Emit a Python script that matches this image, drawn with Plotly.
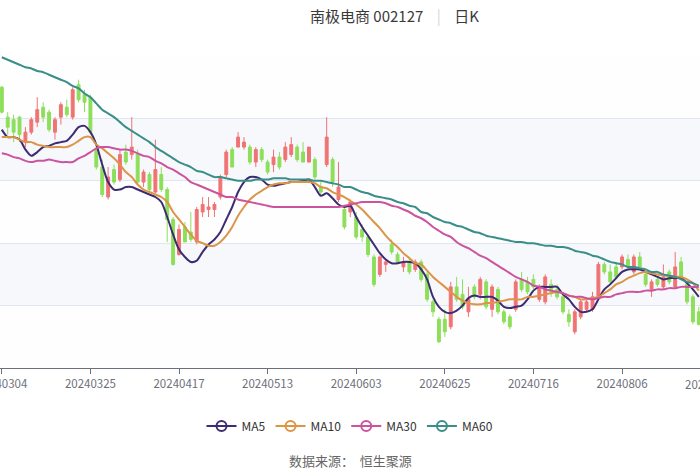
import plotly.graph_objects as go
import pandas as pd


# -----------------------------
# DATA
# -----------------------------
# A-share trading calendar (weekday exchange holidays in this window)
holidays = ["2024-04-04", "2024-04-05", "2024-05-01", "2024-05-02",
            "2024-05-03", "2024-06-10"]
trade_days = pd.bdate_range("2024-03-04", periods=121, freq="C", holidays=holidays)
dates = list(trade_days.strftime("%Y%m%d"))

open_ = [4.75, 4.51, 4.49, 4.51, 4.31, 4.39, 4.47, 4.59, 4.55, 4.39,
         4.51, 4.59, 4.51, 4.77, 4.69, 4.67, 4.25, 4.11, 3.87, 4.09,
         4.01, 4.23, 4.21, 4.21, 3.99, 4.05, 3.91, 4.05, 3.93, 3.69,
         3.41, 3.63, 3.59, 3.51, 3.75, 3.77, 3.77, 3.87, 4.05, 4.25,
         4.27, 4.27, 4.27, 4.15, 4.25, 4.15, 4.13, 4.19, 4.17, 4.21,
         4.27, 4.23, 4.15, 4.17, 3.95, 4.13, 4.17, 3.85, 3.77, 3.75,
         3.71, 3.61, 3.55, 3.39, 3.25, 3.33, 3.49, 3.41, 3.31, 3.35,
         3.29, 3.35, 3.25, 3.03, 2.89, 2.89, 2.83, 3.15, 3.09, 2.95,
         3.15, 3.09, 3.19, 2.97, 3.13, 2.95, 2.91, 2.97, 3.21, 3.19,
         3.21, 3.05, 3.03, 3.17, 3.13, 3.07, 2.93, 2.79, 2.91, 2.97,
         2.97, 3.07, 3.33, 3.27, 3.31, 3.31, 3.37, 3.27, 3.39, 3.25,
         3.13, 3.21, 3.15, 3.27, 3.15, 3.35, 3.17, 3.07, 2.95]
high = [4.76, 4.55, 4.53, 4.52, 4.43, 4.51, 4.67, 4.63, 4.57, 4.51,
        4.63, 4.65, 4.75, 4.81, 4.73, 4.69, 4.29, 4.17, 4.11, 4.13,
        4.25, 4.29, 4.51, 4.25, 4.09, 4.07, 4.33, 4.11, 3.95, 3.71,
        3.65, 3.67, 3.75, 3.79, 3.87, 3.87, 3.83, 4.05, 4.25, 4.27,
        4.39, 4.35, 4.29, 4.27, 4.27, 4.17, 4.25, 4.23, 4.31, 4.35,
        4.29, 4.31, 4.27, 4.19, 3.99, 4.51, 4.19, 4.15, 3.79, 3.85,
        3.75, 3.65, 3.57, 3.41, 3.40, 3.37, 3.53, 3.43, 3.39, 3.39,
        3.37, 3.37, 3.27, 3.05, 2.91, 2.97, 3.19, 3.23, 3.21, 3.15,
        3.17, 3.23, 3.21, 3.17, 3.15, 2.97, 2.93, 3.21, 3.27, 3.23,
        3.25, 3.17, 3.25, 3.21, 3.17, 3.11, 2.97, 2.97, 3.05, 3.05,
        3.11, 3.35, 3.35, 3.33, 3.35, 3.41, 3.41, 3.41, 3.43, 3.27,
        3.21, 3.23, 3.33, 3.29, 3.43, 3.39, 3.19, 3.09, 2.99]
low = [4.54, 4.37, 4.31, 4.31, 4.27, 4.37, 4.43, 4.47, 4.39, 4.33,
       4.45, 4.51, 4.49, 4.63, 4.55, 4.37, 4.09, 3.87, 3.85, 3.97,
       3.99, 4.13, 4.17, 3.97, 3.95, 3.91, 3.90, 3.91, 3.51, 3.32,
       3.40, 3.51, 3.51, 3.49, 3.71, 3.71, 3.71, 3.85, 4.03, 4.11,
       4.27, 4.25, 4.13, 4.11, 4.15, 4.05, 4.07, 4.09, 4.15, 4.19,
       4.15, 4.15, 4.15, 4.01, 3.89, 4.11, 3.95, 3.83, 3.61, 3.71,
       3.53, 3.51, 3.39, 3.15, 3.23, 3.27, 3.41, 3.33, 3.27, 3.25,
       3.27, 3.19, 3.03, 2.91, 2.70, 2.75, 2.81, 3.03, 2.97, 2.91,
       3.05, 3.05, 2.97, 2.91, 2.93, 2.85, 2.81, 2.95, 3.11, 3.09,
       3.13, 3.03, 3.01, 3.07, 3.05, 2.93, 2.83, 2.77, 2.89, 2.95,
       2.95, 3.05, 3.25, 3.17, 3.21, 3.29, 3.29, 3.25, 3.29, 3.15,
       3.07, 3.15, 3.13, 3.17, 3.13, 3.21, 3.01, 2.85, 2.84]
close = [4.55, 4.43, 4.39, 4.37, 4.39, 4.49, 4.57, 4.51, 4.41, 4.49,
         4.61, 4.53, 4.73, 4.65, 4.63, 4.39, 4.11, 3.89, 4.03, 3.99,
         4.21, 4.15, 4.27, 3.99, 4.07, 3.93, 4.09, 3.93, 3.69, 3.33,
         3.61, 3.51, 3.53, 3.77, 3.81, 3.79, 3.81, 4.03, 4.23, 4.11,
         4.35, 4.31, 4.15, 4.25, 4.17, 4.07, 4.19, 4.11, 4.27, 4.29,
         4.17, 4.15, 4.27, 4.03, 3.91, 4.35, 3.99, 3.95, 3.63, 3.83,
         3.55, 3.55, 3.41, 3.17, 3.39, 3.35, 3.43, 3.35, 3.35, 3.27,
         3.35, 3.21, 3.05, 2.95, 2.71, 2.79, 3.15, 3.05, 2.99, 3.05,
         3.07, 3.21, 2.99, 3.15, 2.95, 2.87, 2.83, 3.19, 3.13, 3.11,
         3.15, 3.15, 3.23, 3.11, 3.07, 2.95, 2.87, 2.95, 3.03, 3.03,
         3.07, 3.33, 3.27, 3.19, 3.23, 3.39, 3.31, 3.39, 3.31, 3.17,
         3.19, 3.17, 3.23, 3.19, 3.31, 3.23, 3.03, 2.87, 2.85]

ma5 = [4.41, 4.35, 4.35, 4.33, 4.25, 4.20, 4.23, 4.27, 4.28, 4.30,
       4.31, 4.32, 4.37, 4.43, 4.44, 4.39, 4.29, 4.13, 3.99, 3.93,
       3.93, 3.95, 3.95, 3.93, 3.91, 3.89, 3.87, 3.83, 3.71, 3.57,
       3.45, 3.39, 3.35, 3.36, 3.43, 3.49, 3.53, 3.59, 3.69, 3.79,
       3.91, 3.99, 4.03, 4.03, 4.01, 3.97, 3.96, 3.97, 3.98, 3.99,
       3.99, 4.00, 4.01, 3.95, 3.88, 3.90, 3.86, 3.81, 3.79, 3.80,
       3.71, 3.63, 3.56, 3.49, 3.42, 3.37, 3.34, 3.34, 3.35, 3.35,
       3.34, 3.29, 3.21, 3.07, 2.99, 2.95, 2.94, 2.96, 3.00, 3.06,
       3.08, 3.07, 3.07, 3.07, 3.04, 2.99, 2.98, 2.99, 3.00, 3.05,
       3.12, 3.15, 3.15, 3.15, 3.15, 3.09, 3.05, 2.99, 2.95, 2.95,
       2.97, 3.05, 3.13, 3.17, 3.22, 3.27, 3.29, 3.29, 3.29, 3.27,
       3.25, 3.23, 3.21, 3.22, 3.22, 3.22, 3.18, 3.13, 3.07]
ma10 = [4.35, 4.35, 4.35, 4.33, 4.31, 4.31, 4.29, 4.28, 4.27, 4.27,
        4.27, 4.27, 4.29, 4.32, 4.35, 4.35, 4.29, 4.26, 4.22, 4.18,
        4.13, 4.07, 4.03, 3.97, 3.93, 3.91, 3.89, 3.87, 3.83, 3.75,
        3.69, 3.63, 3.57, 3.52, 3.50, 3.48, 3.48, 3.51, 3.56, 3.63,
        3.72, 3.79, 3.85, 3.89, 3.92, 3.95, 3.97, 3.98, 3.98, 3.99,
        3.99, 3.99, 3.99, 3.98, 3.95, 3.94, 3.91, 3.89, 3.87, 3.84,
        3.81, 3.77, 3.72, 3.67, 3.62, 3.56, 3.51, 3.47, 3.42, 3.38,
        3.34, 3.33, 3.28, 3.23, 3.19, 3.15, 3.11, 3.07, 3.04, 3.02,
        3.01, 3.01, 3.02, 3.02, 3.03, 3.04, 3.05, 3.05, 3.05, 3.07,
        3.07, 3.08, 3.09, 3.10, 3.11, 3.10, 3.08, 3.07, 3.05, 3.05,
        3.06, 3.07, 3.10, 3.13, 3.17, 3.19, 3.22, 3.24, 3.26, 3.27,
        3.26, 3.25, 3.24, 3.24, 3.23, 3.23, 3.21, 3.18, 3.12]
ma30 = [4.22, 4.21, 4.19, 4.18, 4.16, 4.15, 4.16, 4.16, 4.17, 4.16,
        4.15, 4.15, 4.15, 4.18, 4.20, 4.23, 4.26, 4.27, 4.27, 4.26,
        4.25, 4.25, 4.24, 4.22, 4.20, 4.19, 4.16, 4.14, 4.11, 4.09,
        4.06, 4.03, 3.99, 3.97, 3.95, 3.93, 3.91, 3.89, 3.87, 3.87,
        3.85, 3.84, 3.83, 3.82, 3.81, 3.80, 3.79, 3.79, 3.79, 3.79,
        3.79, 3.79, 3.79, 3.79, 3.79, 3.79, 3.79, 3.79, 3.80, 3.81,
        3.82, 3.83, 3.83, 3.83, 3.83, 3.82, 3.80, 3.79, 3.77, 3.75,
        3.72, 3.70, 3.67, 3.63, 3.60, 3.57, 3.55, 3.51, 3.48, 3.46,
        3.43, 3.40, 3.38, 3.35, 3.32, 3.29, 3.26, 3.23, 3.21, 3.19,
        3.16, 3.15, 3.13, 3.12, 3.11, 3.10, 3.08, 3.07, 3.07, 3.06,
        3.05, 3.06, 3.07, 3.07, 3.09, 3.10, 3.11, 3.11, 3.11, 3.12,
        3.12, 3.13, 3.13, 3.14, 3.14, 3.15, 3.15, 3.15, 3.15]
ma60 = [4.99, 4.97, 4.95, 4.93, 4.91, 4.90, 4.88, 4.87, 4.85, 4.83,
        4.81, 4.79, 4.76, 4.74, 4.70, 4.67, 4.62, 4.57, 4.54, 4.51,
        4.47, 4.43, 4.40, 4.37, 4.34, 4.31, 4.27, 4.24, 4.21, 4.18,
        4.15, 4.13, 4.11, 4.08, 4.07, 4.05, 4.03, 4.03, 4.02, 4.01,
        4.00, 4.00, 4.00, 4.01, 4.01, 4.01, 4.02, 4.02, 4.02, 4.01,
        4.01, 4.01, 4.01, 4.00, 4.00, 3.99, 3.98, 3.97, 3.95, 3.95,
        3.93, 3.91, 3.90, 3.88, 3.87, 3.86, 3.85, 3.83, 3.82, 3.80,
        3.79, 3.75, 3.74, 3.71, 3.69, 3.67, 3.66, 3.64, 3.63, 3.61,
        3.59, 3.58, 3.56, 3.55, 3.54, 3.53, 3.52, 3.51, 3.51, 3.50,
        3.50, 3.49, 3.48, 3.48, 3.47, 3.47, 3.46, 3.44, 3.43, 3.42,
        3.40, 3.39, 3.37, 3.35, 3.34, 3.33, 3.31, 3.31, 3.30, 3.29,
        3.27, 3.27, 3.25, 3.24, 3.23, 3.21, 3.19, 3.18, 3.16]

y_ticks = [2.5, 3.0, 3.5, 4.0, 4.5, 5.0]
ma_names = ["MA5", "MA10", "MA30", "MA60"]
ma_colors = ["#3d2c72", "#dd9446", "#cc549e", "#3a8e89"]

title_text = "南极电商 002127"
period_text = "日K"
source_text = "数据来源：  恒生聚源"

FONT = "Noto Sans CJK SC, Noto Sans, sans-serif"


# -----------------------------
# BUILD CHART
# -----------------------------
def build_kline():

    x = dates[:len(close)]
    fig = go.Figure()

    # alternating split areas between y gridlines
    band_colors = ["#fefefe", "#f6f8fc"]
    for k in range(len(y_ticks) - 1):
        fig.add_shape(
            type="rect", xref="paper", x0=0, x1=1,
            y0=y_ticks[k], y1=y_ticks[k + 1],
            fillcolor=band_colors[k % 2], line_width=0, layer="below"
        )

    fig.add_trace(go.Candlestick(
        x=x, open=open_, high=high, low=low, close=close,
        increasing=dict(line=dict(color="#f07373", width=1), fillcolor="#f07373"),
        decreasing=dict(line=dict(color="#8ddf5a", width=1), fillcolor="#8ddf5a"),
        whiskerwidth=0,
        showlegend=False
    ))

    for name, vals, color in zip(ma_names, [ma5, ma10, ma30, ma60], ma_colors):
        fig.add_trace(go.Scatter(
            x=x, y=vals, mode="lines", name=name,
            line=dict(color=color, width=2, shape="spline", smoothing=0.8),
            legendgroup=name, showlegend=False
        ))
        # legend entry: line with hollow circle
        fig.add_trace(go.Scatter(
            x=[None], y=[None], mode="lines+markers", name=name,
            line=dict(color=color, width=2),
            marker=dict(symbol="circle-open", size=10, color=color, line=dict(width=2)),
            legendgroup=name
        ))

    # last tick label sits just past the right edge of the view
    fig.add_annotation(
        x=1.0152, y=0, xref="paper", yref="paper",
        xanchor="center", yanchor="top", yshift=-6,
        text=dates[120], showarrow=False,
        font=dict(size=11.5, color="#6E7079", family=FONT)
    )

    fig.add_annotation(
        x=0.5636, y=1.131, xref="paper", yref="paper",
        xanchor="center", yanchor="middle",
        text=title_text + "\u00a0\u00a0\u00a0\u00a0<span style='color:#d6d6d6'>|</span>\u00a0\u00a0\u00a0\u00a0" + period_text,
        showarrow=False,
        font=dict(size=15, color="#3a3a3a", family=FONT)
    )

    fig.add_annotation(
        x=0.5, y=-0.298, xref="paper", yref="paper",
        xanchor="center", yanchor="middle",
        text=source_text, showarrow=False,
        font=dict(size=13, color="#666666", family=FONT)
    )

    fig.update_layout(
        width=700, height=470,
        margin=dict(l=0, r=0, t=56, b=102, autoexpand=False),
        paper_bgcolor="white", plot_bgcolor="white",
        font=dict(family=FONT),
        showlegend=True,
        legend=dict(
            orientation="h", x=0.5, xanchor="center",
            y=-0.186, yanchor="middle",
            font=dict(size=12, color="#333333"),
            itemwidth=30, bgcolor="rgba(0,0,0,0)"
        ),
        xaxis=dict(
            type="category", categoryorder="array", categoryarray=dates,
            range=[-0.305, 118.2], automargin=False,
            tickvals=dates[::15],
            showgrid=False, showline=True, linecolor="#6E7079", linewidth=1,
            ticks="outside", ticklen=5, tickcolor="#6E7079",
            tickfont=dict(size=11.5, color="#6E7079"),
            rangeslider=dict(visible=False)
        ),
        yaxis=dict(
            range=[y_ticks[0], y_ticks[-1]], automargin=False,
            tickvals=y_ticks, showticklabels=False,
            showgrid=True, gridcolor="#E0E6F1", gridwidth=1,
            zeroline=False, showline=False
        )
    )

    return fig


if __name__ == "__main__":
    fig = build_kline()
    # page without the default body margin so the figure fills the window
    fig.write_html(
        "out.html",
        config={"displayModeBar": False},
        post_script="document.body.style.margin='0';"
    )
